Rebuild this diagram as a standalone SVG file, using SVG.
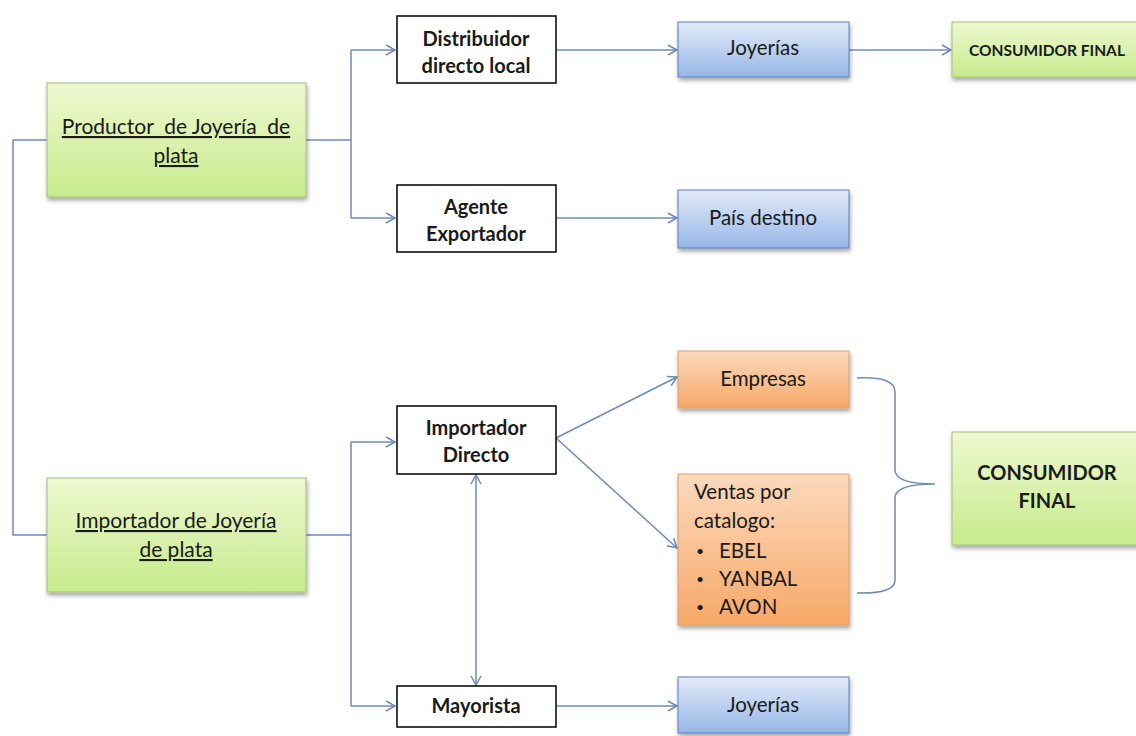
<svg xmlns="http://www.w3.org/2000/svg" width="1136" height="736" viewBox="0 0 1136 736">
<style>
.t{font-family:Lato,"Open Sans","DejaVu Sans",sans-serif;fill:#1a1a1a;text-anchor:middle}
.big{font-size:21px;text-decoration:underline;white-space:pre}
.b{font-size:20px;font-weight:bold}
.r{font-size:20.5px}
.l{text-anchor:start}
.bu{font-size:14px}
.w{fill:#fff;stroke:#000;stroke-width:1.5}
.g{fill:url(#gG);stroke:#a6bc7a;stroke-width:1}
.bl{fill:url(#gB);stroke:#5b7fb5;stroke-width:1}
.o{fill:url(#gO);stroke:#d9a070;stroke-width:1}
.c{fill:none;stroke:#6f8bb3;stroke-width:1.5}
</style>
<defs>
<linearGradient id="gG" x1="0" y1="0" x2="0" y2="1"><stop offset="0" stop-color="#eef8d0"/><stop offset="1" stop-color="#c6eb8c"/></linearGradient>
<linearGradient id="gB" x1="0" y1="0" x2="0" y2="1"><stop offset="0" stop-color="#e2ebf8"/><stop offset="1" stop-color="#96b6e6"/></linearGradient>
<linearGradient id="gO" x1="0" y1="0" x2="0" y2="1"><stop offset="0" stop-color="#fcd9bd"/><stop offset="1" stop-color="#f6a867"/></linearGradient>
<filter id="sh" x="-10%" y="-10%" width="130%" height="140%"><feDropShadow dx="1" dy="3" stdDeviation="2" flood-color="#000" flood-opacity="0.35"/></filter>
<marker id="ar" markerWidth="12" markerHeight="12" refX="10" refY="6" orient="auto" markerUnits="userSpaceOnUse"><path d="M1,1 L10,6 L1,11" fill="none" stroke="#6f8bb3" stroke-width="1.5"/></marker>
<marker id="as" markerWidth="12" markerHeight="12" refX="10" refY="6" orient="auto-start-reverse" markerUnits="userSpaceOnUse"><path d="M1,1 L10,6 L1,11" fill="none" stroke="#6f8bb3" stroke-width="1.5"/></marker>
</defs>
<rect width="1136" height="736" fill="#fff"/>
<g id="connectors">
<path class="c" d="M47,140 H13 V535 H47"/>
<path class="c" d="M306,140 H351"/>
<path class="c" d="M351,50 V218"/>
<path class="c" d="M351,50 H395" marker-end="url(#ar)"/>
<path class="c" d="M351,218 H395" marker-end="url(#ar)"/>
<path class="c" d="M556,50 H677" marker-end="url(#ar)"/>
<path class="c" d="M849,50 H951" marker-end="url(#ar)"/>
<path class="c" d="M556,218 H677" marker-end="url(#ar)"/>
<path class="c" d="M306,535 H351"/>
<path class="c" d="M351,442 V706"/>
<path class="c" d="M351,442 H395" marker-end="url(#ar)"/>
<path class="c" d="M351,706 H395" marker-end="url(#ar)"/>
<path class="c" d="M476,475 V685" marker-start="url(#as)" marker-end="url(#ar)"/>
<path class="c" d="M556,438 L677,377" marker-end="url(#ar)"/>
<path class="c" d="M556,438 L677,548" marker-end="url(#ar)"/>
<path class="c" d="M556,706 H677" marker-end="url(#ar)"/>
<path class="c" d="M857,378 Q895,376 895,392 V470 Q895,484 935,484 Q895,484 895,498 V580 Q895,594 857,593"/>
</g>
<g id="productor"><rect class="g" x="47" y="83" width="259" height="114" filter="url(#sh)"/><text class="t big" x="176" y="134" xml:space="preserve">Productor  de Joyería  de</text><text class="t big" x="176" y="163">plata</text></g>
<g id="distribuidor"><rect class="w" x="397" y="16" width="159" height="67"/><text class="t b" x="476" y="46">Distribuidor</text><text class="t b" x="476" y="73">directo local</text></g>
<g id="agente"><rect class="w" x="397" y="185" width="159" height="67"/><text class="t b" x="476" y="214">Agente</text><text class="t b" x="476" y="241">Exportador</text></g>
<g id="joyerias1"><rect class="bl" x="678" y="22" width="171" height="55" filter="url(#sh)"/><text class="t r" x="763" y="55">Joyerías</text></g>
<g id="pais"><rect class="bl" x="678" y="190" width="171" height="58" filter="url(#sh)"/><text class="t r" x="763" y="225">País destino</text></g>
<g id="consumidor1"><rect class="g" x="952" y="22" width="190" height="55" filter="url(#sh)"/><text class="t" x="1047" y="56" style="font-size:15.5px;font-weight:bold">CONSUMIDOR FINAL</text></g>
<g id="importador"><rect class="g" x="47" y="478" width="259" height="114" filter="url(#sh)"/><text class="t big" x="176" y="528">Importador de Joyería</text><text class="t big" x="176" y="557">de plata</text></g>
<g id="importadorDirecto"><rect class="w" x="397" y="406" width="159" height="68"/><text class="t b" x="476" y="435">Importador</text><text class="t b" x="476" y="462">Directo</text></g>
<g id="mayorista"><rect class="w" x="397" y="686" width="159" height="41"/><text class="t b" x="476" y="713">Mayorista</text></g>
<g id="empresas"><rect class="o" x="678" y="351" width="171" height="57" filter="url(#sh)"/><text class="t r" x="763" y="386">Empresas</text></g>
<g id="ventas"><rect class="o" x="678" y="474" width="171" height="151" filter="url(#sh)"/>
<text class="t r l" x="694" y="499">Ventas por</text>
<text class="t r l" x="694" y="528">catalogo:</text>
<text class="t l bu" x="696" y="556">•</text><text class="t r l" x="719" y="558">EBEL</text>
<text class="t l bu" x="696" y="584">•</text><text class="t r l" x="719" y="586">YANBAL</text>
<text class="t l bu" x="696" y="612">•</text><text class="t r l" x="719" y="614">AVON</text></g>
<g id="joyerias2"><rect class="bl" x="678" y="677" width="171" height="56" filter="url(#sh)"/><text class="t r" x="763" y="712">Joyerías</text></g>
<g id="consumidor2"><rect class="g" x="952" y="432" width="190" height="113" filter="url(#sh)"/><text class="t" x="1047" y="480" style="font-size:20px;font-weight:bold">CONSUMIDOR</text><text class="t" x="1047" y="508" style="font-size:20px;font-weight:bold">FINAL</text></g>
</svg>
